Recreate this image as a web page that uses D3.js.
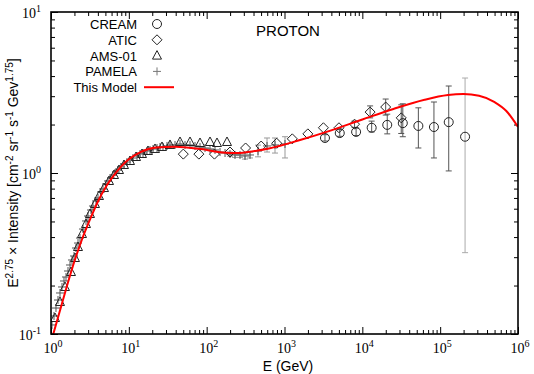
<!DOCTYPE html>
<html>
<head>
<meta charset="utf-8">
<title>PROTON</title>
<script src="https://cdn.jsdelivr.net/npm/d3@7"></script>
<style>
  body { margin: 0; background: #fff; }
  text { font-family: "Liberation Sans", Arial, sans-serif; }
  .tl { font-family: "Liberation Serif", "Times New Roman", serif; font-size: 14px; }
</style>
</head>
<body>
<script>
// ---- data (E in GeV, E^2.75 x intensity) ----
var pamelaE = [1.03, 1.093, 1.159, 1.230, 1.305, 1.385, 1.469, 1.559, 1.654, 1.754, 1.861, 1.975,
  2.095, 2.223, 2.358, 2.577, 2.817, 2.988, 3.265, 3.464, 3.786, 4.017, 4.390, 4.658, 5.090, 5.400,
  5.902, 6.262, 6.842, 7.260, 7.934, 8.670, 9.474, 10.35, 11.31, 12.74, 13.92, 15.21, 17.12, 18.71,
  20.45, 23.01, 25.15, 27.48, 30.93, 33.81, 39.20, 45.45, 52.69, 61.09, 70.83, 82.13, 95.2, 110.4,
  128.0, 148.4, 172.1, 199.5, 231.3, 268.2, 310.9, 360.5, 456.7, 596.2, 755.3, 1015];
var pamelaI = [0.1138, 0.1294, 0.1450, 0.1626, 0.1798, 0.1959, 0.2134, 0.2260, 0.2462, 0.2683, 0.2882, 0.3052,
  0.3421, 0.3673, 0.3946, 0.4488, 0.5035, 0.5407, 0.5890, 0.6237, 0.6699, 0.6993, 0.7621, 0.7955, 0.8545, 0.8919,
  0.9309, 0.9718, 1.014, 1.044, 1.090, 1.137, 1.170, 1.204, 1.239, 1.275, 1.312, 1.331, 1.370, 1.390,
  1.410, 1.430, 1.451, 1.451, 1.472, 1.493, 1.493, 1.514, 1.493, 1.493, 1.472, 1.451, 1.430, 1.410,
  1.390, 1.350, 1.331, 1.312, 1.294, 1.294, 1.275, 1.294, 1.370, 1.472, 1.493, 1.514];
var pamelaErrE  = [199.5, 231.3, 268.2, 310.9, 360.5, 456.7, 596.2, 755.3, 1015];
var pamelaErrLo = [1.27, 1.25, 1.25, 1.22, 1.24, 1.26, 1.35, 1.33, 1.24];
var pamelaErrHi = [1.35, 1.34, 1.34, 1.33, 1.35, 1.49, 1.65, 1.65, 1.68];

var amsE = [1.126, 1.305, 1.513, 1.807, 2.034, 2.223, 2.502, 2.817, 3.171, 3.676, 4.138, 4.797, 5.564,
  6.450, 7.477, 8.670, 10.35, 12.37, 14.76, 17.63, 21.69, 26.68, 33.81, 45.45, 61.09, 82.13, 110.4, 135.8, 182.5];
var amsI = [0.1257, 0.1581, 0.1959, 0.2427, 0.2965, 0.3470, 0.4180, 0.4822, 0.5564, 0.6419, 0.7196, 0.8067, 0.8919,
  0.9718, 1.044, 1.121, 1.187, 1.257, 1.312, 1.370, 1.410, 1.451, 1.493, 1.558, 1.558, 1.536, 1.558, 1.536, 1.558];

var aticE = [50.1, 79.4, 125.9, 199.5, 316.2, 501.2, 794.3, 1259, 1995, 3162, 5012, 7943, 12590, 19950, 31620];
var aticI = [1.31, 1.31, 1.31, 1.35, 1.43, 1.47, 1.53, 1.63, 1.75, 1.91, 1.91, 2.01, 2.39, 2.57, 2.20];
var aticErrE  = [7943, 12590, 19950, 31620];
var aticErrLo = [1.92, 2.20, 2.29, 1.76];
var aticErrHi = [2.10, 2.61, 2.88, 2.65];

var creamE  = [3311, 5129, 8318, 13180, 20890, 33110, 52480, 83180, 128800, 208900];
var creamI  = [1.65, 1.77, 1.80, 1.91, 1.99, 2.04, 1.96, 1.93, 2.07, 1.68];
var creamLo = [1.58, 1.69, 1.71, 1.80, 1.75, 1.68, 1.43, 1.24, 1.03, 0.32];
var creamHi = [1.73, 1.86, 1.90, 2.10, 2.32, 2.69, 2.54, 2.76, 3.47, 3.89];

var modelE = [1, 1.259, 1.585, 1.995, 2.512, 3.162, 3.981, 5.012, 6.310, 7.943, 10, 14.13, 22.39, 39.81,
  79.43, 158.5, 251.2, 398.1, 631.0, 1585, 3981, 10000, 25120, 63100, 125900, 199500, 316200, 501200, 707900, 1e6];
var modelI = [0.0891, 0.1318, 0.1950, 0.2818, 0.3890, 0.5129, 0.6607, 0.8128, 0.9550, 1.096, 1.216, 1.349, 1.439, 1.455,
  1.413, 1.343, 1.330, 1.365, 1.419, 1.603, 1.841, 2.148, 2.500, 2.851, 3.048, 3.090, 3.020, 2.754, 2.427, 1.932];

var legendNames = ["CREAM", "ATIC", "AMS-01", "PAMELA", "This Model"];
var xTickExp = ["0", "1", "2", "3", "4", "5", "6"];
var yTickExp = ["-1", "0", "1"];

// ---- layout ----
var margin = {top: 12, right: 16, bottom: 40, left: 51};
var width = 534, height = 374;
var w = width - margin.left - margin.right;
var h = height - margin.top - margin.bottom;

var x = d3.scaleLog().domain([1, 1e6]).range([0, w]);
var y = d3.scaleLog().domain([0.1, 10]).range([h, 0]);

var svg = d3.select("body").append("svg")
  .attr("width", width)
  .attr("height", height);

var g = svg.append("g")
  .attr("transform", "translate(" + margin.left + "," + margin.top + ")");

g.append("clipPath").attr("id", "clip")
  .append("rect").attr("width", w).attr("height", h);

// ticks (inward, on all four sides)
var xAll = x.ticks(), yAll = y.ticks();
var isMajor = function (v) { return Math.abs(Math.log10(v) - Math.round(Math.log10(v))) < 1e-9; };
var xMaj = xAll.filter(isMajor), xMin = xAll.filter(function (v) { return !isMajor(v); });
var yMaj = yAll.filter(isMajor), yMin = yAll.filter(function (v) { return !isMajor(v); });

function axis(gen, vals, size, tr) {
  var a = g.append("g").attr("transform", tr)
    .call(gen.tickValues(vals).tickSize(size).tickFormat(""));
  a.select(".domain").remove();
  a.selectAll("line").attr("stroke", "#000");
}
axis(d3.axisBottom(x), xMaj, -7, "translate(0," + h + ")");
axis(d3.axisBottom(x), xMin, -4, "translate(0," + h + ")");
axis(d3.axisTop(x), xMaj, -7, "translate(0,0)");
axis(d3.axisTop(x), xMin, -4, "translate(0,0)");
axis(d3.axisLeft(y), yMaj, -7, "translate(0,0)");
axis(d3.axisLeft(y), yMin, -4, "translate(0,0)");
axis(d3.axisRight(y), yMaj, -7, "translate(" + w + ",0)");
axis(d3.axisRight(y), yMin, -4, "translate(" + w + ",0)");

// tick labels 10^n
xMaj.forEach(function (v, i) {
  var t = g.append("text").attr("class", "tl")
    .attr("x", x(v) + 2).attr("y", h + 19).attr("text-anchor", "middle");
  t.append("tspan").text("10");
  t.append("tspan").attr("dy", -6).style("font-size", "10px").text(xTickExp[i]);
});
yMaj.forEach(function (v, i) {
  var t = g.append("text").attr("class", "tl")
    .attr("x", -10).attr("y", y(v) + 6).attr("text-anchor", "end");
  t.append("tspan").text("10");
  t.append("tspan").attr("dy", -6).style("font-size", "10px").text(yTickExp[i]);
});

// plot area
var plot = g.append("g").attr("clip-path", "url(#clip)");

function errBars(E, lo, hi, color) {
  var eb = plot.append("g").attr("stroke", color).attr("stroke-width", 1);
  E.forEach(function (e, i) {
    var cx = x(e);
    eb.append("line").attr("x1", cx).attr("x2", cx).attr("y1", y(lo[i])).attr("y2", y(hi[i]));
    eb.append("line").attr("x1", cx - 3).attr("x2", cx + 3).attr("y1", y(lo[i])).attr("y2", y(lo[i]));
    eb.append("line").attr("x1", cx - 3).attr("x2", cx + 3).attr("y1", y(hi[i])).attr("y2", y(hi[i]));
  });
}

var shapes = {
  circle: function (cx, cy) { return "M" + (cx + 4.5) + "," + cy + "A4.5,4.5 0 1,1 " + (cx - 4.5) + "," + cy + "A4.5,4.5 0 1,1 " + (cx + 4.5) + "," + cy + "Z"; },
  diamond: function (cx, cy) { return "M" + cx + "," + (cy - 5) + "L" + (cx + 5) + "," + cy + "L" + cx + "," + (cy + 5) + "L" + (cx - 5) + "," + cy + "Z"; },
  triangle: function (cx, cy) { return "M" + cx + "," + (cy - 5) + "L" + (cx + 4.5) + "," + (cy + 3.5) + "L" + (cx - 4.5) + "," + (cy + 3.5) + "Z"; },
  plus: function (cx, cy) { return "M" + (cx - 4) + "," + cy + "H" + (cx + 4) + "M" + cx + "," + (cy - 4) + "V" + (cy + 4); }
};

function markers(E, I, shape, color) {
  plot.append("g").selectAll("path")
    .data(E)
    .enter().append("path")
    .attr("d", function (e, i) { return shapes[shape](x(e), y(I[i])); })
    .attr("fill", "none")
    .attr("stroke", color)
    .attr("stroke-width", 1);
}

errBars(pamelaErrE, pamelaErrLo, pamelaErrHi, "#999");
errBars(aticErrE, aticErrLo, aticErrHi, "#555");
errBars(creamE.slice(0, 9), creamLo.slice(0, 9), creamHi.slice(0, 9), "#555");
errBars(creamE.slice(9), creamLo.slice(9), creamHi.slice(9), "#aaa");

markers(pamelaE, pamelaI, "plus", "#555");
markers(amsE, amsI, "triangle", "#222");
markers(aticE, aticI, "diamond", "#222");
markers(creamE, creamI, "circle", "#222");

// model curve
var line = d3.line()
  .x(function (d) { return x(d[0]); })
  .y(function (d) { return y(d[1]); })
  .curve(d3.curveMonotoneX);
plot.append("path")
  .datum(modelE.map(function (e, i) { return [e, modelI[i]]; }))
  .attr("d", line)
  .attr("fill", "none")
  .attr("stroke", "#f00")
  .attr("stroke-width", 2);

// frame
g.append("rect").attr("width", w).attr("height", h)
  .attr("fill", "none").attr("stroke", "#000").attr("stroke-width", 1.6);

// legend
var legendShapes = ["circle", "diamond", "triangle", "plus"];
var legendColors = ["#222", "#222", "#222", "#777"];
legendNames.forEach(function (name, i) {
  var ly = 24 + i * 15.8;
  svg.append("text").attr("x", 137).attr("y", ly + 5)
    .attr("text-anchor", "end").style("font-size", "13px").text(name);
  if (i < 4) {
    svg.append("path").attr("d", shapes[legendShapes[i]](157, ly))
      .attr("fill", "none").attr("stroke", legendColors[i]).attr("stroke-width", 1);
  } else {
    svg.append("line").attr("x1", 144).attr("x2", 174).attr("y1", ly).attr("y2", ly)
      .attr("stroke", "#f00").attr("stroke-width", 2);
  }
});

// title
svg.append("text").attr("x", 288).attr("y", 36).attr("text-anchor", "middle")
  .style("font-size", "15px").text("PROTON");

// x axis label
svg.append("text").attr("x", 288).attr("y", 371).attr("text-anchor", "middle")
  .style("font-size", "14px").text("E (GeV)");

// y axis label
var yl = svg.append("text").attr("transform", "translate(18,173) rotate(-90)")
  .attr("text-anchor", "middle").style("font-size", "14px");
var yParts = [["E", 0], ["2.75", 1], [" \u00d7 Intensity [cm", 0], ["-2", 1], [" sr", 0], ["-1", 1],
  [" s", 0], ["-1", 1], [" Gev", 0], ["1.75", 1], ["]", 0]];
var prevSup = 0;
yParts.forEach(function (p) {
  var dy = (p[1] - prevSup) * -5;
  var ts = yl.append("tspan").attr("dy", dy).text(p[0]);
  if (p[1]) ts.style("font-size", "10px");
  prevSup = p[1];
});
</script>
</body>
</html>
